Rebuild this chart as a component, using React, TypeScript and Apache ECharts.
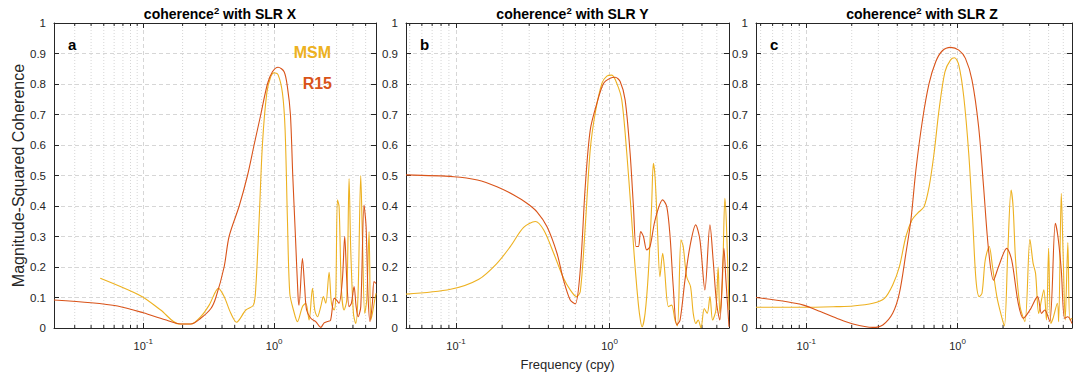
import React, { useEffect, useRef } from "react";
import * as echarts from "echarts";

// ---------- data (frequency in cpy, magnitude-squared coherence) ----------
const aR15Freq = [0.0208, 0.0399, 0.0637, 0.1, 0.145, 0.194, 0.231, 0.275, 0.329, 0.359, 0.415, 0.453, 0.541, 0.626, 0.703, 0.791, 0.889, 0.971, 1.073, 1.192, 1.264, 1.332, 1.388, 1.455, 1.525, 1.55, 1.645, 1.71, 1.77, 1.906, 2.08, 2.27, 2.41, 2.55, 2.7, 2.87, 2.99, 3.13, 3.32, 3.46, 3.59, 3.74, 3.89, 4.08, 4.23, 4.38, 4.59, 4.86, 5.04, 5.22, 5.4, 5.63, 5.79, 6.0];
const aR15Coh = [0.092, 0.083, 0.072, 0.05, 0.028, 0.013, 0.013, 0.032, 0.064, 0.1, 0.2, 0.3, 0.4, 0.5, 0.6, 0.7, 0.8, 0.84, 0.855, 0.84, 0.79, 0.7, 0.5, 0.3, 0.1, 0.075, 0.228, 0.136, 0.059, 0.032, 0.021, 0.002, 0.017, 0.021, 0.026, 0.097, 0.092, 0.081, 0.157, 0.3, 0.157, 0.07, 0.081, 0.136, 0.07, 0.037, 0.07, 0.403, 0.332, 0.103, 0.021, 0.081, 0.152, 0.146];
const aMsmFreq = [0.047, 0.096, 0.136, 0.188, 0.231, 0.275, 0.319, 0.376, 0.415, 0.467, 0.516, 0.608, 0.695, 0.725, 0.768, 0.815, 0.879, 0.943, 1.0, 1.073, 1.158, 1.213, 1.264, 1.317, 1.405, 1.507, 1.645, 1.745, 1.85, 1.962, 2.044, 2.142, 2.271, 2.38, 2.48, 2.63, 2.74, 2.871, 2.956, 3.045, 3.135, 3.266, 3.422, 3.587, 3.737, 3.848, 4.033, 4.202, 4.378, 4.587, 4.724, 4.921, 5.098, 5.312, 5.47, 5.63, 5.87, 6.0];
const aMsmCoh = [0.163, 0.105, 0.059, 0.013, 0.013, 0.037, 0.075, 0.13, 0.103, 0.048, 0.019, 0.059, 0.075, 0.135, 0.354, 0.605, 0.77, 0.824, 0.837, 0.83, 0.77, 0.65, 0.354, 0.114, 0.059, 0.021, 0.07, 0.081, 0.026, 0.13, 0.059, 0.037, 0.07, 0.103, 0.081, 0.183, 0.081, 0.059, 0.103, 0.42, 0.398, 0.125, 0.059, 0.092, 0.49, 0.256, 0.048, 0.015, 0.114, 0.5, 0.3, 0.048, 0.092, 0.316, 0.026, 0.048, 0.092, 0.114];

const bR15Freq = [0.0473, 0.097, 0.138, 0.185, 0.238, 0.29, 0.337, 0.392, 0.455, 0.502, 0.555, 0.598, 0.645, 0.695, 0.749, 0.828, 0.914, 1.01, 1.088, 1.173, 1.264, 1.362, 1.432, 1.49, 1.542, 1.597, 1.663, 1.747, 1.836, 1.98, 2.22, 2.36, 2.48, 2.6, 2.74, 2.88, 3.1, 3.34, 3.64, 3.88, 4.18, 4.51, 4.73, 4.98, 5.23, 5.56, 5.73, 6.0];
const bR15Coh = [0.502, 0.496, 0.485, 0.463, 0.436, 0.409, 0.381, 0.332, 0.245, 0.157, 0.092, 0.079, 0.19, 0.463, 0.649, 0.737, 0.802, 0.819, 0.822, 0.808, 0.748, 0.573, 0.398, 0.267, 0.267, 0.316, 0.3, 0.256, 0.267, 0.354, 0.42, 0.398, 0.3, 0.136, 0.01, 0.026, 0.157, 0.267, 0.338, 0.289, 0.125, 0.338, 0.223, 0.081, 0.026, 0.261, 0.157, 0.004];
const bMsmFreq = [0.0473, 0.0923, 0.141, 0.185, 0.226, 0.276, 0.329, 0.373, 0.433, 0.502, 0.555, 0.608, 0.645, 0.695, 0.749, 0.807, 0.892, 0.961, 1.035, 1.116, 1.202, 1.296, 1.376, 1.445, 1.504, 1.566, 1.63, 1.705, 1.79, 1.88, 1.93, 1.98, 2.05, 2.13, 2.22, 2.28, 2.42, 2.54, 2.67, 2.77, 2.92, 3.02, 3.18, 3.37, 3.51, 3.65, 3.78, 3.94, 4.14, 4.33, 4.51, 4.69, 4.93, 5.1, 5.23, 5.44, 5.64, 5.78, 6.0];
const bMsmCoh = [0.111, 0.127, 0.16, 0.212, 0.267, 0.33, 0.349, 0.321, 0.245, 0.163, 0.125, 0.103, 0.119, 0.332, 0.584, 0.704, 0.802, 0.826, 0.829, 0.802, 0.748, 0.573, 0.398, 0.245, 0.136, 0.048, 0.004, 0.048, 0.179, 0.398, 0.54, 0.496, 0.332, 0.168, 0.245, 0.196, 0.07, 0.075, 0.026, 0.007, 0.289, 0.267, 0.168, 0.136, 0.048, 0.015, 0.026, 0.0, 0.064, 0.048, 0.103, 0.026, 0.059, 0.2, 0.048, 0.157, 0.425, 0.332, 0.059];

const cR15Freq = [0.0466, 0.0747, 0.096, 0.124, 0.159, 0.204, 0.276, 0.321, 0.373, 0.413, 0.456, 0.492, 0.531, 0.587, 0.649, 0.718, 0.794, 0.9, 1.02, 1.128, 1.247, 1.379, 1.487, 1.604, 1.73, 1.866, 2.115, 2.28, 2.52, 2.72, 3.01, 3.38, 3.59, 3.77, 4.07, 4.43, 4.61, 4.85, 5.1, 5.36, 5.71];
const cR15Coh = [0.1, 0.086, 0.075, 0.054, 0.032, 0.013, 0.002, 0.01, 0.048, 0.114, 0.245, 0.354, 0.518, 0.682, 0.802, 0.873, 0.909, 0.92, 0.911, 0.884, 0.813, 0.66, 0.463, 0.256, 0.157, 0.201, 0.261, 0.223, 0.081, 0.032, 0.059, 0.103, 0.048, 0.059, 0.021, 0.343, 0.3, 0.19, 0.032, 0.037, 0.015];
const cMsmFreq = [0.0466, 0.096, 0.159, 0.204, 0.276, 0.329, 0.373, 0.413, 0.456, 0.5, 0.544, 0.601, 0.649, 0.7, 0.755, 0.826, 0.9, 0.956, 1.02, 1.1, 1.186, 1.26, 1.325, 1.393, 1.452, 1.525, 1.62, 1.703, 1.82, 1.942, 2.04, 2.148, 2.259, 2.33, 2.42, 2.59, 2.79, 3.01, 3.16, 3.28, 3.44, 3.59, 3.72, 3.87, 4.0, 4.13, 4.28, 4.57, 4.66, 4.85, 4.98, 5.15, 5.36, 5.52, 5.71];
const cMsmCoh = [0.068, 0.068, 0.07, 0.072, 0.081, 0.097, 0.141, 0.201, 0.3, 0.354, 0.376, 0.398, 0.463, 0.573, 0.715, 0.84, 0.879, 0.886, 0.862, 0.758, 0.573, 0.354, 0.157, 0.103, 0.114, 0.223, 0.267, 0.201, 0.103, 0.043, 0.007, 0.245, 0.452, 0.398, 0.223, 0.07, 0.021, 0.291, 0.212, 0.179, 0.048, 0.092, 0.125, 0.026, 0.261, 0.015, 0.032, 0.081, 0.021, 0.442, 0.256, 0.026, 0.28, 0.026, 0.032];

const minorFreqs = [0.02, 0.03, 0.04, 0.05, 0.06, 0.07, 0.08, 0.09, 0.2, 0.3, 0.4, 0.5, 0.6, 0.7, 0.8, 0.9, 2, 3, 4, 5, 6];
const panelTitles = ["X", "Y", "Z"];
const panelLetters = ["a", "b", "c"];
const seriesNames = ["MSM", "R15"];
// ---------------------------------------------------------------------------

const FONT = "'Liberation Sans', Arial, Helvetica, sans-serif";
const AXIS = "#262626";
const GRID = "#d6d6d6";
const C_MSM = "#EDB120";
const C_R15 = "#D95319";

const panels = [
  { grid: { left: 54, top: 23, width: 322, height: 305 }, min: 1 / 48, max: 6, r15: [aR15Freq, aR15Coh], msm: [aMsmFreq, aMsmCoh] },
  { grid: { left: 406, top: 23, width: 323, height: 305 }, min: 0.0473, max: 6, r15: [bR15Freq, bR15Coh], msm: [bMsmFreq, bMsmCoh] },
  { grid: { left: 756, top: 23, width: 319, height: 305 }, min: 0.0466, max: 5.71, r15: [cR15Freq, cR15Coh], msm: [cMsmFreq, cMsmCoh] },
];

const zip = (f: number[], v: number[]) => f.map((x, i) => [x, v[i]]);

function logLabel(v: number) {
  const e = Math.log10(v);
  const r = Math.round(e);
  if (Math.abs(e - r) > 1e-6) return "";
  return "10{sup|" + r + "}";
}

function minorRender(_params: any, api: any) {
  const f = api.value(0);
  const top = api.coord([f, 1]);
  const bot = api.coord([f, 0]);
  return {
    type: "group",
    children: [
      { type: "line", shape: { x1: bot[0], y1: bot[1], x2: top[0], y2: top[1] }, style: { stroke: GRID, lineWidth: 1, lineDash: [1, 2] }, silent: true },
      { type: "line", shape: { x1: bot[0], y1: bot[1], x2: bot[0], y2: bot[1] - 3 }, style: { stroke: AXIS, lineWidth: 1 }, silent: true },
      { type: "line", shape: { x1: top[0], y1: top[1], x2: top[0], y2: top[1] + 3 }, style: { stroke: AXIS, lineWidth: 1 }, silent: true },
    ],
  };
}

export default function App() {
  const ref = useRef<HTMLDivElement>(null);
  useEffect(() => {
    document.body.style.margin = "0";
    if (!ref.current) return;
    const chart = echarts.init(ref.current, undefined, { renderer: "svg" });

    const xAxis: any[] = [];
    const yAxis: any[] = [];
    const series: any[] = [];
    const graphic: any[] = [];

    panels.forEach((p, i) => {
      xAxis.push({
        type: "log", logBase: 10, gridIndex: i, min: p.min, max: p.max,
        axisLine: { show: true, onZero: false, lineStyle: { color: AXIS, width: 1 } },
        axisTick: { show: true, inside: true, length: 5, lineStyle: { color: AXIS } },
        axisLabel: {
          formatter: logLabel, margin: 9, color: AXIS, fontSize: 11, fontFamily: FONT,
          rich: { sup: { fontSize: 8, fontFamily: FONT, color: AXIS, padding: [0, 0, 9, 0] } },
        },
        splitLine: { show: true, lineStyle: { color: GRID, type: [4, 3], width: 1 } },
        name: i === 1 ? "Frequency (cpy)" : "",
        nameLocation: "middle", nameGap: 30,
        nameTextStyle: { fontSize: 13, fontFamily: FONT, color: AXIS },
      });
      xAxis.push({
        type: "log", logBase: 10, gridIndex: i, min: p.min, max: p.max, position: "top",
        axisLine: { show: true, onZero: false, lineStyle: { color: AXIS, width: 1 } },
        axisTick: { show: true, inside: true, length: 5, lineStyle: { color: AXIS } },
        axisLabel: { show: false }, splitLine: { show: false },
      });
      yAxis.push({
        type: "value", gridIndex: i, min: 0, max: 1, interval: 0.1,
        axisLine: { show: true, onZero: false, lineStyle: { color: AXIS, width: 1 } },
        axisTick: { show: true, inside: true, length: 5, lineStyle: { color: AXIS } },
        axisLabel: { margin: 8, color: AXIS, fontSize: 11.5, fontFamily: FONT, formatter: (v: number) => String(Math.round(v * 10) / 10) },
        splitLine: { show: true, lineStyle: { color: GRID, type: [4, 3], width: 1 } },
        name: i === 0 ? "Magnitude-Squared Coherence" : "",
        nameLocation: "middle", nameGap: 28, nameRotate: 90,
        nameTextStyle: { fontSize: 16, fontFamily: FONT, color: AXIS },
      });
      yAxis.push({
        type: "value", gridIndex: i, min: 0, max: 1, interval: 0.1, position: "right",
        axisLine: { show: true, onZero: false, lineStyle: { color: AXIS, width: 1 } },
        axisTick: { show: true, inside: true, length: 5, lineStyle: { color: AXIS } },
        axisLabel: { show: false }, splitLine: { show: false },
      });

      series.push({
        type: "custom", xAxisIndex: 2 * i, yAxisIndex: 2 * i, z: 1, silent: true,
        renderItem: minorRender,
        data: minorFreqs.filter((f) => f > p.min && f < p.max).map((f) => [f, 0]),
      });
      series.push({
        name: seriesNames[0], type: "line", xAxisIndex: 2 * i, yAxisIndex: 2 * i, z: 3,
        data: zip(p.msm[0], p.msm[1]), showSymbol: false, smooth: 0.3,
        lineStyle: { color: C_MSM, width: 1.1 }, itemStyle: { color: C_MSM },
      });
      series.push({
        name: seriesNames[1], type: "line", xAxisIndex: 2 * i, yAxisIndex: 2 * i, z: 4,
        data: zip(p.r15[0], p.r15[1]), showSymbol: false, smooth: 0.3,
        lineStyle: { color: C_R15, width: 1.1 }, itemStyle: { color: C_R15 },
      });

      const cx = p.grid.left + (i === 2 ? 322 : p.grid.width) / 2 + 5;
      graphic.push({
        type: "text", x: cx, y: 14, z: 10,
        style: {
          text: "coherence{sup|2} with SLR " + panelTitles[i],
          align: "center", verticalAlign: "middle",
          fontSize: 14, fontWeight: "bold", fontFamily: FONT, fill: "#000",
          rich: { sup: { fontSize: 9.5, fontWeight: "bold", fontFamily: FONT, fill: "#000", padding: [0, 0, 8, 0] } },
        },
      });
      graphic.push({
        type: "text", x: p.grid.left + 14, y: 44, z: 10,
        style: { text: panelLetters[i], align: "left", verticalAlign: "middle", fontSize: 15, fontWeight: "bold", fontFamily: FONT, fill: "#000" },
      });
    });

    graphic.push({
      type: "text", x: 331, y: 52, z: 10,
      style: { text: seriesNames[0], align: "right", verticalAlign: "middle", fontSize: 16, fontWeight: "bold", fontFamily: FONT, fill: C_MSM },
    });
    graphic.push({
      type: "text", x: 332, y: 83, z: 10,
      style: { text: seriesNames[1], align: "right", verticalAlign: "middle", fontSize: 16, fontWeight: "bold", fontFamily: FONT, fill: C_R15 },
    });

    chart.setOption({
      animation: false,
      backgroundColor: "#ffffff",
      textStyle: { fontFamily: FONT },
      grid: panels.map((p) => ({ ...p.grid, containLabel: false })),
      xAxis, yAxis, series, graphic,
    });
    return () => chart.dispose();
  }, []);
  return <div ref={ref} style={{ width: 1075, height: 379 }} />;
}
